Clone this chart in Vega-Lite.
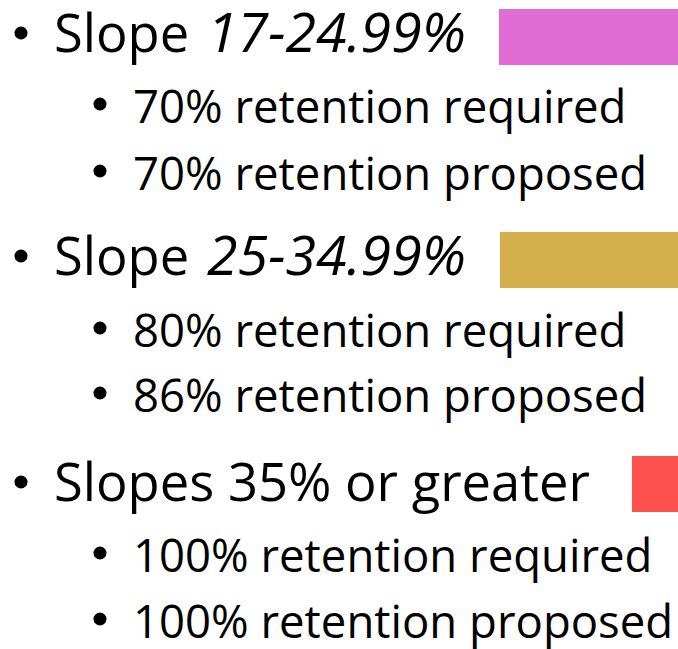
{
  "$schema": "https://vega.github.io/schema/vega-lite/v6.json",
  "width": 678,
  "height": 649,
  "padding": 0,
  "autosize": {"type": "fit", "contains": "padding"},
  "background": "white",
  "config": {"view": {"stroke": null}},
  "datasets": {
    "lines": [
      {"level": "main", "indent": 54, "base": 52, "text": "Slope ", "em": "17-24.99%"},
      {"level": "sub", "indent": 133, "base": 123, "text": "70% retention required"},
      {"level": "sub", "indent": 133, "base": 190, "text": "70% retention proposed"},
      {"level": "main", "indent": 54, "base": 275, "text": "Slope ", "em": "25-34.99%"},
      {"level": "sub", "indent": 133, "base": 347, "text": "80% retention required"},
      {"level": "sub", "indent": 133, "base": 412, "text": "86% retention proposed"},
      {"level": "main", "indent": 54, "base": 501, "text": "Slopes 35% or greater"},
      {"level": "sub", "indent": 133, "base": 572, "text": "100% retention required"},
      {"level": "sub", "indent": 133, "base": 638, "text": "100% retention proposed"}
    ],
    "swatches": [
      {"band": "17-24.99%", "x0": 499, "x1": 678, "top": 9, "bottom": 65},
      {"band": "25-34.99%", "x0": 500, "x1": 678, "top": 232, "bottom": 288},
      {"band": "35% or greater", "x0": 632, "x1": 678, "top": 456, "bottom": 512}
    ]
  },
  "layer": [
    {
      "data": {"name": "swatches"},
      "mark": {"type": "rect"},
      "encoding": {
        "x": {"field": "x0", "type": "quantitative", "scale": {"domain": [0, 678], "nice": false, "zero": false}, "axis": null},
        "x2": {"field": "x1"},
        "y": {"field": "top", "type": "quantitative", "scale": {"domain": [0, 649], "nice": false, "zero": false, "reverse": true}, "axis": null},
        "y2": {"field": "bottom"},
        "color": {"field": "band", "type": "nominal", "scale": {"domain": ["17-24.99%", "25-34.99%", "35% or greater"], "range": ["#E06DD3", "#D4AF4C", "#FF5050"]}, "legend": null}
      }
    },
    {
      "data": {"name": "lines"},
      "mark": {"type": "point", "filled": true, "shape": "circle", "size": 170, "color": "black", "opacity": 1, "strokeWidth": 0, "xOffset": -33, "yOffset": -19},
      "encoding": {
        "x": {"field": "indent", "type": "quantitative", "scale": {"domain": [0, 678], "nice": false, "zero": false}, "axis": null},
        "y": {"field": "base", "type": "quantitative", "scale": {"domain": [0, 649], "nice": false, "zero": false, "reverse": true}, "axis": null}
      }
    },
    {
      "data": {"name": "lines"},
      "transform": [{"filter": "datum.level == 'main'"}],
      "mark": {"type": "text", "align": "left", "baseline": "alphabetic", "font": "Open Sans", "fontSize": 52.5, "color": "black"},
      "encoding": {
        "x": {"field": "indent", "type": "quantitative", "scale": {"domain": [0, 678], "nice": false, "zero": false}, "axis": null},
        "y": {"field": "base", "type": "quantitative", "scale": {"domain": [0, 649], "nice": false, "zero": false, "reverse": true}, "axis": null},
        "text": {"field": "text"}
      }
    },
    {
      "data": {"name": "lines"},
      "transform": [{"filter": "datum.em"}],
      "mark": {"type": "text", "align": "left", "baseline": "alphabetic", "font": "Open Sans", "fontStyle": "italic", "fontSize": 55.5, "color": "black", "dx": 153},
      "encoding": {
        "x": {"field": "indent", "type": "quantitative", "scale": {"domain": [0, 678], "nice": false, "zero": false}, "axis": null},
        "y": {"field": "base", "type": "quantitative", "scale": {"domain": [0, 649], "nice": false, "zero": false, "reverse": true}, "axis": null},
        "text": {"field": "em"}
      }
    },
    {
      "data": {"name": "lines"},
      "transform": [{"filter": "datum.level == 'sub'"}],
      "mark": {"type": "text", "align": "left", "baseline": "alphabetic", "font": "Open Sans", "fontSize": 45.5, "color": "black"},
      "encoding": {
        "x": {"field": "indent", "type": "quantitative", "scale": {"domain": [0, 678], "nice": false, "zero": false}, "axis": null},
        "y": {"field": "base", "type": "quantitative", "scale": {"domain": [0, 649], "nice": false, "zero": false, "reverse": true}, "axis": null},
        "text": {"field": "text"}
      }
    }
  ]
}
